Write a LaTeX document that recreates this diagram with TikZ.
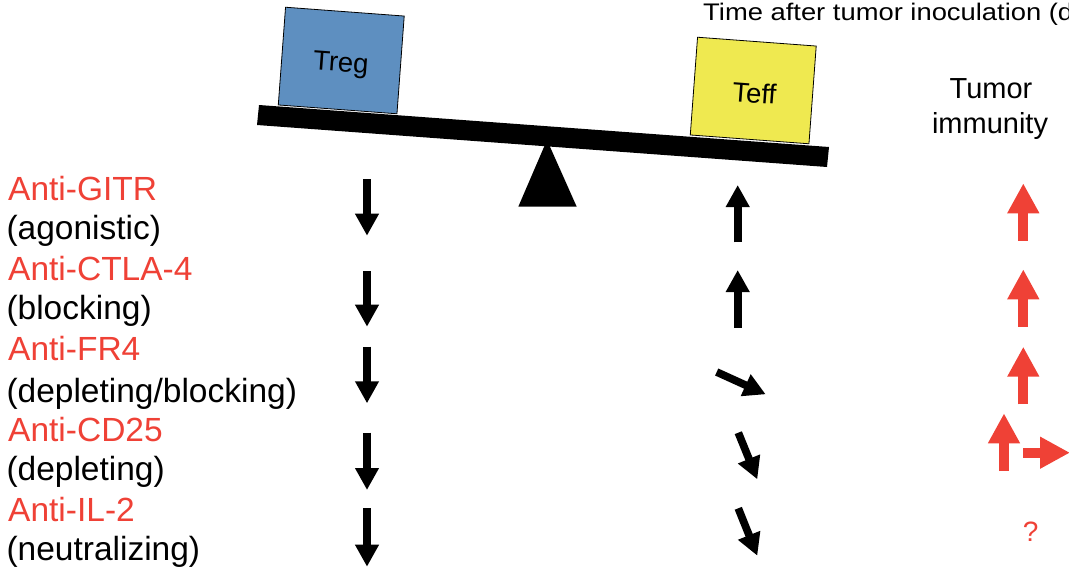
\documentclass[tikz,border=0pt]{standalone}
\usepackage{fontspec}
\setmainfont{Liberation Sans}
\usetikzlibrary{arrows.meta}

\definecolor{agentred}{RGB}{239,65,54}
\definecolor{tregblue}{RGB}{94,143,192}
\definecolor{teffyellow}{RGB}{239,233,80}

\newcommand{\fs}[1]{\fontsize{#1}{#1}\selectfont}

\tikzset{
  cellbox/.style={draw=black, line width=0.8pt, minimum width=119pt,
                  minimum height=98pt, inner sep=0pt, rotate=-4.25},
  celltext/.style={font=\fs{27.5}, inner sep=0pt, anchor=base, rotate=-4.25},
  agent/.style={font=\fs{33.5}, text=agentred, inner sep=0pt, anchor=base west},
  mode/.style={font=\fs{33.5}, text=black, inner sep=0pt, anchor=base west},
  headtext/.style={font=\fs{29}, inner sep=0pt, anchor=base},
  darrow/.style={line width=7.7pt, black, -{Triangle[width=22.5pt,length=22pt]}},
  rarrow/.style={line width=10pt, agentred, -{Triangle[width=30pt,length=30pt]}},
}

\begin{document}
\begin{tikzpicture}[x=1pt, y=-1pt]
\useasboundingbox (0,0) rectangle (1069,571);

% seesaw: fulcrum and tilted beam
\fill (518.3,206.7) -- (547,140) -- (576.7,206.7) -- cycle;
\fill (259,105) -- (829,147) -- (827,167) -- (257,125) -- cycle;

% the two cell populations resting on the beam
\node[cellbox, fill=tregblue] (treg) at (341.25,60.5) {};
\node[cellbox, fill=teffyellow] (teff) at (753.25,90.5) {};
\node[celltext] (tregtxt) at (340.3,71.7) {Treg};
\node[celltext] (tefftxt) at (753.7,102.7) {Teff};

% column headings
\node[font=\fs{24}, xscale=1.14, inner sep=0pt, anchor=base west] (time) at (703,20.7)
  {Time after tumor inoculation (d};
\node[headtext] (tumor) at (991,98) {Tumor};
\node[headtext] (immunity) at (990,133) {immunity};

% antibody treatments
\node[agent] (gitr)  at (8,200)   {Anti-GITR};
\node[mode]  (gitrm) at (6.3,239) {(agonistic)};
\node[agent] (ctla)  at (8,280)   {Anti-CTLA-4};
\node[mode]  (ctlam) at (6.3,319) {(blocking)};
\node[agent] (fr)    at (8,360)   {Anti-FR4};
\node[mode]  (frm)   at (6.3,402) {(depleting/blocking)};
\node[agent] (cd)    at (8,441)   {Anti-CD25};
\node[mode]  (cdm)   at (6.3,480) {(depleting)};
\node[agent] (il)    at (8,521.5) {Anti-IL-2};
\node[mode]  (ilm)   at (6.3,560) {(neutralizing)};

% effect on Treg
\draw[darrow] (367,179.3) -- (367,235.7);
\draw[darrow] (367,271)   -- (367,326.7);
\draw[darrow] (367,346.7) -- (367,403.3);
\draw[darrow] (367,432.7) -- (367,490);
\draw[darrow] (367,508.3) -- (367,566.7);

% effect on Teff
\draw[darrow] (737.7,242.3) -- (737.7,185);
\draw[darrow] (737.7,327.7) -- (737.7,270);
\draw[darrow] (716.7,372)   -- (765.7,394.3);
\draw[darrow] (738.3,432.7) -- (757.3,479.3);
\draw[darrow] (738.3,508.3) -- (757.3,555.7);

% effect on tumor immunity
\draw[rarrow] (1023.3,240.7) -- (1023.3,183.3);
\draw[rarrow] (1023.3,326.7) -- (1023.3,269.3);
\draw[rarrow] (1023.3,404.3) -- (1023.3,346.7);
\draw[rarrow] (1004,471)     -- (1004,413.3);
\draw[rarrow] (1023.3,452.7) -- (1070,452.7);
\node[font=\fs{28}, text=agentred, inner sep=0pt] (unknown) at (1030.7,531.7) {?};
\end{tikzpicture}
\end{document}
